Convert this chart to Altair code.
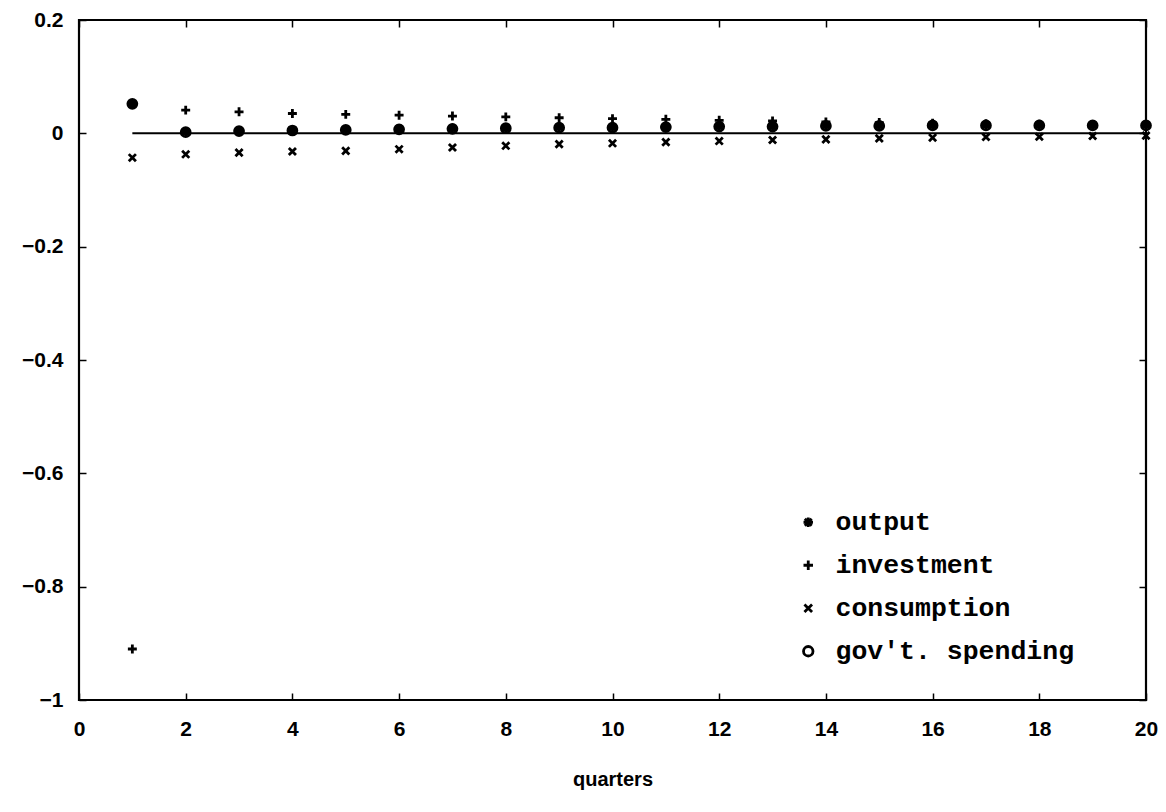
import altair as alt
import pandas as pd

# ---- data ----
quarters = list(range(1, 21))
output = [0.052, 0.003, 0.005, 0.006, 0.007, 0.008, 0.009, 0.010, 0.011, 0.011,
          0.012, 0.013, 0.013, 0.014, 0.014, 0.0145, 0.015, 0.015, 0.015, 0.015]
investment = [-0.91, 0.041, 0.038, 0.035, 0.0335, 0.032, 0.0305, 0.029, 0.0275, 0.026,
              0.0247, 0.023, 0.022, 0.020, 0.019, 0.018, 0.017, 0.016, 0.0155, 0.015]
consumption = [-0.043, -0.037, -0.034, -0.032, -0.031, -0.028, -0.025, -0.022, -0.019, -0.0176,
               -0.0155, -0.0136, -0.0118, -0.0106, -0.0088, -0.0077, -0.0065, -0.006, -0.0047, -0.004]
govt_spending = [0.052, 0.002, 0.004, 0.005, 0.006, 0.007, 0.008, 0.009, 0.010, 0.010,
                 0.011, 0.012, 0.012, 0.013, 0.013, 0.014, 0.014, 0.014, 0.014, 0.014]
series_names = ["output", "investment", "consumption", "gov't. spending"]
x_ticks = list(range(0, 21, 2))
y_ticks = [-1.0, -0.8, -0.6, -0.4, -0.2, 0.0, 0.2]
zero_line_x = [1, 20]
zero_line_y = [0, 0]

rows = []
for name, vals in zip(series_names, [output, investment, consumption, govt_spending]):
    for q, v in zip(quarters, vals):
        rows.append({"quarter": q, "value": v, "series": name})
df = pd.DataFrame(rows)
line_df = pd.DataFrame({"quarter": zero_line_x, "value": zero_line_y})

star = "M-1,0L1,0M0,-1L0,1M-0.72,-0.72L0.72,0.72M-0.72,0.72L0.72,-0.72"
plus = "M-1,0L1,0M0,-1L0,1"
xmark = "M-0.8,-0.8L0.8,0.8M-0.8,0.8L0.8,-0.8"
shapes = [star, plus, xmark, "circle"]

xscale = alt.Scale(domain=[0, 20], nice=False, zero=False)
yscale = alt.Scale(domain=[-1, 0.2], nice=False, zero=False)

TICK = 7

points = alt.Chart(df).mark_point(
    filled=False, color="black", strokeWidth=2.8, size=80, opacity=1
).encode(
    x=alt.X("quarter:Q", scale=xscale,
            axis=alt.Axis(orient="bottom", values=x_ticks, title="quarters", format="~g",
                          offset=-TICK, tickSize=TICK, domain=False, grid=False,
                          labelFlush=False, labelPadding=18, titlePadding=30)),
    y=alt.Y("value:Q", scale=yscale,
            axis=alt.Axis(orient="left", values=y_ticks, title=None, format="~g",
                          offset=-TICK, tickSize=TICK, domain=False, grid=False,
                          labelFlush=False, labelPadding=16)),
    shape=alt.Shape("series:N",
                    scale=alt.Scale(domain=series_names, range=shapes),
                    legend=alt.Legend(title=None, orient="none", legendX=716, legendY=489,
                                      symbolSize=90, symbolStrokeWidth=2.8,
                                      symbolStrokeColor="black", symbolFillColor="white",
                                      labelFont="Liberation Mono", labelFontWeight="bold",
                                      labelFontSize=26.5, labelColor="black", labelLimit=600,
                                      labelOffset=14, rowPadding=16)),
)

zero_line = alt.Chart(line_df).mark_line(color="black", strokeWidth=2).encode(
    x=alt.X("quarter:Q", scale=xscale,
            axis=alt.Axis(orient="top", values=x_ticks, title=None, labels=False,
                          offset=-TICK, tickSize=TICK, domain=False, grid=False)),
    y=alt.Y("value:Q", scale=yscale,
            axis=alt.Axis(orient="right", values=y_ticks, title=None, labels=False,
                          offset=-TICK, tickSize=TICK, domain=False, grid=False)),
)

chart = alt.layer(zero_line, points).resolve_axis(
    x="independent", y="independent"
).properties(
    width=1067, height=680,
    background="white",
    autosize=alt.AutoSizeParams(type="none"),
    padding={"left": 79, "top": 20, "right": 20, "bottom": 112},
).configure_view(
    stroke="black", strokeWidth=2.2
).configure_axis(
    tickColor="black", tickWidth=1.5,
    labelFont="Liberation Sans", labelFontWeight="bold", labelFontSize=21, labelColor="black",
    titleFont="Liberation Sans", titleFontWeight="bold", titleFontSize=20, titleColor="black",
)

chart.save("out.html", embed_options={"renderer": "svg", "actions": False})
